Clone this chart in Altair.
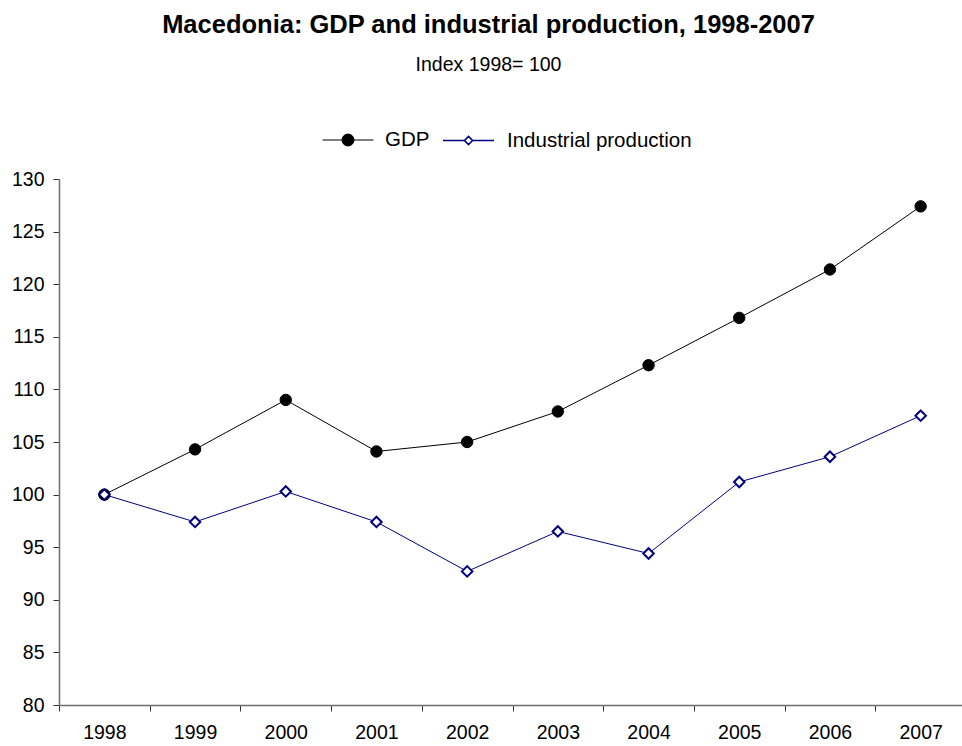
import altair as alt
import pandas as pd

# ---- data ----
years = [1998, 1999, 2000, 2001, 2002, 2003, 2004, 2005, 2006, 2007]
gdp = [100.0, 104.3, 109.0, 104.1, 105.0, 107.9, 112.3, 116.8, 121.4, 127.4]
industrial = [100.0, 97.4, 100.3, 97.4, 92.7, 96.5, 94.4, 101.2, 103.6, 107.5]
series_names = ["GDP", "Industrial production"]
y_ticks = [80, 85, 90, 95, 100, 105, 110, 115, 120, 125, 130]

title_text = "Macedonia: GDP and industrial production, 1998-2007"
subtitle_text = "Index 1998= 100"

# ---- layout ----
W = 903
H = 526
STEP = 90.7
FONT = "Liberation Sans"
NAVY = "#000080"

df = pd.DataFrame({
    "year": years + years,
    "value": gdp + industrial,
    "series": [series_names[0]] * len(years) + [series_names[1]] * len(years),
})

x_enc = alt.X(
    "year:Q",
    scale=alt.Scale(domain=[1997.5, 1997.5 + W / STEP], nice=False, zero=False),
    axis=alt.Axis(
        values=years, format="d", title=None, grid=False,
        tickOffset=-STEP / 2, labelOffset=STEP / 2,
        labelFlush=False, labelOverlap=False,
        tickSize=6, labelPadding=12,
    ),
)
y_enc = alt.Y(
    "value:Q",
    scale=alt.Scale(domain=[80, 130], nice=False, zero=False),
    axis=alt.Axis(values=y_ticks, title=None, grid=False, tickSize=6, labelPadding=9),
)

GDP_PATH = ("M-1,0H-0.235M0.235,0H1M0.235,0A0.235,0.235,0,1,1,-0.235,0"
            "A0.235,0.235,0,1,1,0.235,0Z")
IP_PATH = "M-1,0H-0.16M0.16,0H1M-0.16,0L0,-0.16L0.16,0L0,0.16Z"

base = alt.Chart(df)

line_gdp = base.transform_filter(alt.datum.series == series_names[0]).mark_line(
    color="black", strokeWidth=1
).encode(x=x_enc, y=y_enc)

line_ip = base.transform_filter(alt.datum.series == series_names[1]).mark_line(
    color=NAVY, strokeWidth=1
).encode(x=x_enc, y=y_enc)

pts_gdp = base.transform_filter(alt.datum.series == series_names[0]).mark_point(
    shape="circle", size=130, stroke="black", strokeWidth=1, opacity=1
).encode(
    x=x_enc, y=y_enc,
    fill=alt.Fill(
        "series:N",
        scale=alt.Scale(domain=[series_names[0]], range=["black"]),
        legend=alt.Legend(
            title=None, orient="none", legendX=263, legendY=-65,
            symbolType=GDP_PATH, symbolSize=2601, symbolStrokeWidth=1,
            labelFont=FONT, labelFontSize=20.5, labelColor="black",
            labelOffset=11, labelLimit=500, padding=0,
        ),
    ),
)

pts_ip = base.transform_filter(alt.datum.series == series_names[1]).mark_point(
    shape="diamond", size=110, fill="white", strokeWidth=2, opacity=1
).encode(
    x=x_enc, y=y_enc,
    stroke=alt.Stroke(
        "series:N",
        scale=alt.Scale(domain=[series_names[1]], range=[NAVY]),
        legend=alt.Legend(
            title=None, orient="none", legendX=383, legendY=-65,
            symbolType=IP_PATH, symbolSize=2601, symbolStrokeWidth=1.6,
            symbolFillColor="white",
            labelFont=FONT, labelFontSize=20.5, labelColor="black",
            labelOffset=12, labelLimit=500, padding=0,
        ),
    ),
)

chart = alt.layer(line_gdp, line_ip, pts_gdp, pts_ip).properties(
    width=W,
    height=H,
    padding={"left": 11, "right": 0, "top": 13, "bottom": 0},
    title=alt.TitleParams(
        text=title_text,
        subtitle=subtitle_text,
        font=FONT, fontSize=25.5, fontWeight="bold", color="black",
        subtitleFont=FONT, subtitleFontSize=19.5, subtitleColor="black",
        subtitlePadding=17,
        anchor="middle", frame="group", dx=-22, offset=40,
    ),
).configure_view(stroke=None).configure_axis(
    labelFont=FONT, labelFontSize=19.5, labelColor="black",
    domainColor="#6e6e6e", domainWidth=1.5, tickColor="#333333", tickWidth=1,
)

chart.save("out.html", embed_options={"renderer": "svg", "actions": False})
